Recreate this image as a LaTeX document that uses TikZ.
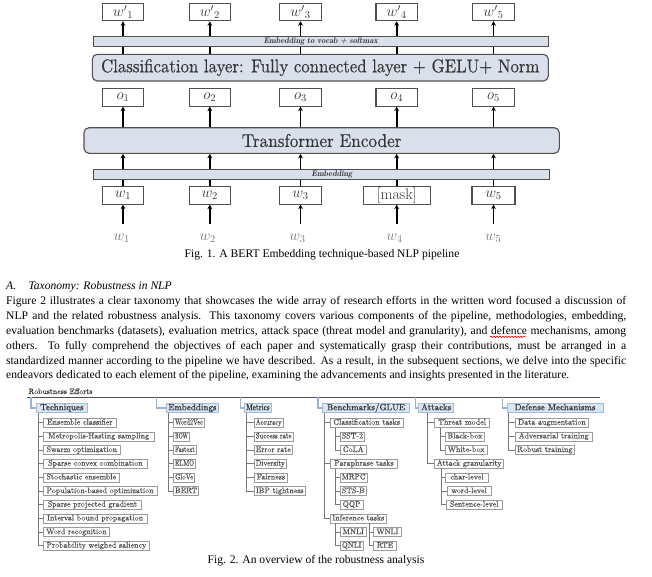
\RequirePackage{fix-cm}
\documentclass[tikz,border=0pt]{standalone}
\usepackage{fontspec}
\setmainfont{Liberation Serif}
\newfontfamily\palf{lmroman10-regular.otf}[FakeBold=0.45]
\usetikzlibrary{arrows.meta,shadows,decorations.pathmorphing,calc}
\pgfdeclarelayer{bg}
\pgfsetlayers{bg,main}
\definecolor{barfill}{RGB}{217,223,235}
\definecolor{bardraw}{RGB}{80,80,80}
\definecolor{tok}{RGB}{55,55,55}
\definecolor{labc}{RGB}{120,120,120}
\definecolor{catfill}{RGB}{218,229,243}
\definecolor{catdraw}{RGB}{160,188,222}
\definecolor{catln}{RGB}{150,180,218}
\definecolor{leafdraw}{RGB}{155,155,155}
\definecolor{leaftext}{RGB}{80,80,80}
\definecolor{stemc}{RGB}{120,120,120}
\newcommand\lmr{\fontfamily{lmr}\selectfont}
\newcommand\fsz[1]{\fontsize{#1}{#1}\selectfont}
\newsavebox\lfbox
\newcommand\fitto[2]{\sbox\lfbox{#2}\ifdim\wd\lfbox>#1\resizebox{#1}{\height}{\usebox\lfbox}\else\usebox\lfbox\fi}
\tikzset{
  tokbox/.style={draw=bardraw, line width=1.1pt, fill=white, minimum width=41.5pt, minimum height=17.4pt, inner sep=0pt, text=tok, font=\fsz{15}},
  bigbox/.style={draw=bardraw, line width=1.1pt, fill=barfill, rounded corners=5pt, inner sep=0pt, text=tok},
  barbox/.style={draw=bardraw, line width=0.9pt, fill=barfill, inner sep=0pt, text=tok, font={\lmr\bfseries\itshape\fsz{8.2}}},
  arr/.style={line width=1.6pt, -{Stealth[length=4.5pt,width=4.8pt]}},
  labnode/.style={inner sep=0pt, text=labc, font=\fsz{15}},
  para/.style={inner sep=0pt, anchor=base west, font=\fsz{11.6}},
  leaf/.style={draw=leafdraw, line width=0.6pt, fill=white, inner xsep=0pt, inner ysep=1pt, text height=5.5pt, text depth=1.5pt, minimum height=9pt, text=leaftext, font={\palf\fsz{8}}, drop shadow={shadow xshift=0.8pt,shadow yshift=-0.8pt,fill=black!20}},
  catbox/.style={draw=catdraw, line width=0.8pt, fill=catfill, inner xsep=0pt, inner ysep=0.8pt, text height=6.2pt, text depth=1.8pt, minimum height=9.6pt, text=tok, font={\palf\fsz{9}}},
  stem/.style={draw=stemc, line width=0.7pt},
  catline/.style={draw=catln, line width=1.1pt},
  rootline/.style={draw=bardraw, line width=1pt},
}
\newcommand\leaf[5]{\pgfmathsetmacro\lw{#3-#2}\pgfmathsetmacro\lt{#3-#2-3}\node[leaf,minimum width=\lw pt,anchor=west] (#1) at (#2,#4) {\fitto{\lt pt}{#5}};}
\newcommand\catnode[4]{\pgfmathsetmacro\lw{#3-#2}\pgfmathsetmacro\lt{#3-#2-3}\node[catbox,minimum width=\lw pt,anchor=west] (#1) at (#2,408) {\fitto{\lt pt}{#4}};}
\begin{document}
\begin{tikzpicture}[x=1pt,y=-1pt]
\useasboundingbox (0,0) rectangle (652,576);
% ---------------- BERT pipeline ----------------
\node[bigbox, minimum width=456pt, minimum height=26.7pt, font={\palf\fsz{16.8}}] (cls) at (320.3,67.65) {\scalebox{1}[1.1]{Classification layer: Fully connected layer + GELU+ Norm}};
\node[bigbox, minimum width=475.3pt, minimum height=25.6pt, font={\palf\fsz{17.2}}] (enc) at (321.65,140.5) {\scalebox{1}[1.08]{Transformer Encoder}};
\node[barbox, minimum width=455pt, minimum height=10pt] (vocab) at (320.8,41.7) {Embedding to vocab + softmax};
\node[barbox, minimum width=456pt, minimum height=9.7pt] (emb) at (321.3,174.15) {};
\node[inner sep=0pt, text=tok, font={\lmr\bfseries\itshape\fsz{8.2}}] (embt) at (332,174.15) {Embedding};
\foreach \i/\x in {1/123,2/209.8,3/300.5,4/396.7,5/493.5} {
  \node[tokbox] (wp\i) at (\x,12) {$w'{}_{\i}$};
  \node[tokbox] (o\i) at (\x,97.35) {$o_{\i}$};
}
\node[tokbox] (w1) at (123,195.35) {$w_1$};
\node[tokbox] (w2) at (209.8,195.35) {$w_2$};
\node[tokbox] (w3) at (300.5,195.35) {$w_3$};
\node[tokbox, minimum width=67.3pt, font={\lmr\fsz{15.5}}] (w4) at (396.7,195.35) {[mask]};
\node[tokbox, minimum width=43pt] (w5) at (493.5,195.35) {$w_5$};
\node[labnode] (l1) at (121.7,238) {$w_1$};
\node[labnode] (l2) at (207.7,238) {$w_2$};
\node[labnode] (l3) at (297.5,238) {$w_3$};
\node[labnode] (l4) at (394.5,238) {$w_4$};
\node[labnode] (l5) at (493.3,238) {$w_5$};
\begin{pgfonlayer}{bg}
\foreach \i in {1,...,5} {
  \draw[arr] (wp\i.south |- cls.north) -- (wp\i.south);
  \draw[arr] (o\i.south |- enc.north) -- (o\i.south);
  \draw[arr] (w\i.north) -- (w\i.north |- enc.south);
  \draw[arr, shorten <=9pt] (w\i.south |- l\i.north) -- (w\i.south);
}
\end{pgfonlayer}
\node[anchor=base, inner sep=0pt, font=\fsz{11.6}] (cap1) at (322,257) {Fig. 1. A BERT Embedding technique-based NLP pipeline};
% ---------------- Text ----------------
\node[para, font=\itshape\fsz{11.6}] (hA) at (6,289) {A.};
\node[para, font=\itshape\fsz{11.6}] (hT) at (28.3,289) {Taxonomy: Robustness in NLP};
\node[para] (p1) at (6,304) {\makebox[620pt][s]{Figure 2 illustrates a clear taxonomy that showcases the wide array of research efforts in the written word focused a discussion of}};
\node[para] (p2) at (6,319) {\makebox[620pt][s]{NLP and the related robustness analysis. This taxonomy covers various components of the pipeline, methodologies, embedding,}};
\node[para] (p3) at (6,334) {\makebox[620pt][s]{evaluation benchmarks (datasets), evaluation metrics, attack space (threat model and granularity), and defence mechanisms, among}};
\node[para] (p4) at (6,349) {\makebox[620pt][s]{others. To fully comprehend the objectives of each paper and systematically grasp their contributions, must be arranged in a}};
\node[para] (p5) at (6,364) {\makebox[620pt][s]{standardized manner according to the pipeline we have described. As a result, in the subsequent sections, we delve into the specific}};
\node[para] (p6) at (6,378) {endeavors dedicated to each element of the pipeline, examining the advancements and insights presented in the literature.};
\coordinate (sqL) at (490,336.8);
\coordinate (sqR) at (526,336.8);
\draw[red, line width=0.6pt, decorate, decoration={snake, amplitude=0.8pt, segment length=3pt}] (sqL) -- (sqR);
% ---------------- Taxonomy tree ----------------
\node[anchor=base west, inner sep=0pt, text=tok, font={\palf\fsz{7.8}}] (root) at (28.3,394) {Robustness Efforts};
\coordinate (rl) at (27,397.3);
\coordinate (rr) at (600,397.3);
\draw[rootline] (rl) -- (rr);
\catnode{tech}{36}{87}{Techniques}
\catnode{embd}{165.7}{218.3}{Embeddings}
\catnode{metr}{244.3}{270.7}{Metrics}
\catnode{bench}{322}{409.3}{Benchmarks/GLUE}
\catnode{att}{418.3}{453.3}{Attacks}
\catnode{def}{506.7}{602.7}{Defense Mechanisms}
\draw[catline] (rl) ++(4,0) |- (tech.west);
\draw[catline] (rl) ++(129.7,0) |- (embd.west);
\draw[catline] (rl) ++(213.7,0) |- (metr.west);
\draw[catline] (rl) ++(291,0) |- (bench.west);
\draw[catline] (rl) ++(388.7,0) |- (att.west);
\draw[catline] (rl) ++(475.7,0) |- (def.west);
% techniques
\leaf{t1}{43}{116}{422.7}{Ensemble classifier}
\leaf{t2}{43}{153.7}{436.4}{Metropolis-Hasting sampling}
\leaf{t3}{43}{120}{450.0}{Swarm optimization}
\leaf{t4}{43}{147.3}{463.7}{Sparse convex combination}
\leaf{t5}{43}{119}{477.4}{Stochastic ensemble}
\leaf{t6}{43}{156.7}{491.1}{Population-based optimization}
\leaf{t7}{43}{141.3}{504.7}{Sparse projected gradient}
\leaf{t8}{43}{146.7}{518.4}{Interval bound propagation}
\leaf{t9}{43}{109.3}{532.1}{Word recognition}
\leaf{t10}{43}{149.3}{545.7}{Probability weighed saliency}
\foreach \c in {t1,t2,t3,t4,t5,t6,t7,t8,t9,t10} \draw[stem] (tech.south west) ++(2,0) |- (\c.west);
% embeddings
\leaf{e1}{173.3}{204}{422.7}{Word2Vec}
\leaf{e2}{173.3}{189}{436.4}{BOW}
\leaf{e3}{173.3}{196}{450.0}{Fastext}
\leaf{e4}{173.3}{195.3}{463.7}{ELMO}
\leaf{e5}{173.3}{194.3}{477.4}{GloVe}
\leaf{e6}{173.3}{198.3}{491.1}{BERT}
\foreach \c in {e1,e2,e3,e4,e5,e6} \draw[stem] (embd.south west) ++(2.3,0) |- (\c.west);
% metrics
\leaf{m1}{254}{282.7}{422.7}{Accuracy}
\leaf{m2}{254}{292.7}{436.4}{Success rate}
\leaf{m3}{254}{292}{450.0}{Error rate}
\leaf{m4}{254}{286}{463.7}{Diversity}
\leaf{m5}{254}{287.3}{477.4}{Fairness}
\leaf{m6}{254}{305}{491.1}{IBP tightness}
\foreach \c in {m1,m2,m3,m4,m5,m6} \draw[stem] (metr.south west) ++(1.7,0) |- (\c.west);
% benchmarks
\leaf{b1}{330}{402.7}{422.7}{Classification tasks}
\leaf{b11}{340}{364.3}{436.4}{SST-2}
\leaf{b12}{340}{366}{450.0}{CoLA}
\leaf{b2}{330}{397.3}{463.7}{Paraphrase tasks}
\leaf{b21}{340}{366.7}{477.4}{MRPC}
\leaf{b22}{340}{366}{491.1}{STS-B}
\leaf{b23}{340}{362.7}{504.7}{QQP}
\leaf{b3}{330}{386}{518.4}{Inference tasks}
\leaf{b31}{340}{366}{532.1}{MNLI}
\leaf{b32}{340}{362.7}{545.7}{QNLI}
\leaf{b33}{373.3}{401}{532.1}{WNLI}
\leaf{b34}{373.3}{396}{545.7}{RTE}
\foreach \c in {b1,b2,b3} \draw[stem] (bench.south west) ++(2,0) |- (\c.west);
\foreach \c in {b11,b12} \draw[stem] (b1.south west) ++(5,0) |- (\c.west);
\foreach \c in {b21,b22,b23} \draw[stem] (b2.south west) ++(5,0) |- (\c.west);
\foreach \c in {b31,b32} \draw[stem] (b3.south west) ++(5,0) |- (\c.west);
\foreach \c in {b33,b34} \draw[stem] (b3.south west) ++(39,0) |- (\c.west);
% attacks
\leaf{a1}{434.3}{489.3}{422.7}{Threat model}
\leaf{a11}{445}{484.3}{436.4}{Black-box}
\leaf{a12}{445}{486.7}{450.0}{White-box}
\leaf{a2}{434.3}{503.3}{463.7}{Attack granularity}
\leaf{a21}{445}{488.3}{477.4}{char-level}
\leaf{a22}{446.7}{490.7}{491.1}{word-level}
\leaf{a23}{446}{501.7}{504.7}{Sentence-level}
\foreach \c in {a1,a2} \draw[stem] (att.south west) ++(9.4,0) |- (\c.west);
\foreach \c in {a11,a12} \draw[stem] (a1.south west) ++(6.4,0) |- (\c.west);
\foreach \c in {a21,a22,a23} \draw[stem] (a2.south west) ++(7.4,0) |- (\c.west);
% defense
\leaf{d1}{515}{588.3}{422.7}{Data augmentation}
\leaf{d2}{515}{591.7}{436.4}{Adversarial training}
\leaf{d3}{515}{574}{450.0}{Robust training}
\foreach \c in {d1,d2,d3} \draw[stem] (def.south west) ++(1.6,0) |- (\c.west);
\node[anchor=base, inner sep=0pt, font=\fsz{11.6}] (cap2) at (316,563.5) {Fig. 2. An overview of the robustness analysis};
\end{tikzpicture}
\end{document}
